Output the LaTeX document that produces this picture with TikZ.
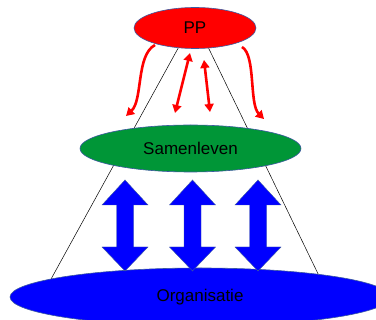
\documentclass[tikz,border=0pt]{standalone}
\usepackage{fontspec}
\setmainfont{Liberation Sans}
\usetikzlibrary{arrows.meta,shapes.geometric,backgrounds}
\definecolor{ppred}{RGB}{255,0,0}
\definecolor{samgreen}{RGB}{0,150,55}
\definecolor{orgblue}{RGB}{0,0,255}
\definecolor{rim}{RGB}{60,90,160}

\begin{document}
\begin{tikzpicture}[x=1pt,y=-1pt,
   level/.style={ellipse,draw=rim,line width=0.6pt,inner sep=0pt,font=\fontsize{17}{20}\selectfont},
   talk/.style={ppred,line width=2.6pt,-{Triangle[length=8pt,width=9pt]}},
   both/.style={talk,{Triangle[length=8pt,width=9pt]}-{Triangle[length=8pt,width=9pt]}},
   flow/.style={fill=orgblue,draw=rim,line width=0.4pt}]
   \useasboundingbox (0,0) rectangle (376,320);
   \clip (0,0) rectangle (376,320);
   \node[level,fill=orgblue,minimum width=380pt,minimum height=58pt] (org) at (200,297) {Organisatie};
   \node[level,fill=samgreen,minimum width=221pt,minimum height=47pt] (sam) at (190.5,148.5) {Samenleven};
   \node[level,fill=ppred,minimum width=122pt,minimum height=41pt] (pp) at (195,28) {PP};
   % cone behind the levels
   \begin{scope}[on background layer]
     \draw[line width=0.5pt] (pp.230) -- (org.173)
                             (pp.304) -- (org.11);
   \end{scope}
   % free ends of the red arrows
   \coordinate (a0) at (155,45);   \coordinate (a1) at (126,116);
   \coordinate (b0) at (190,53);   \coordinate (b1) at (175,113);
   \coordinate (c0) at (204,60);   \coordinate (c1) at (210,112);
   \coordinate (d0) at (242,47);   \coordinate (d1) at (264,119);
   \draw[talk] (a0) .. controls (136,55) and (143,100) .. (a1);
   \draw[talk] (d0) .. controls (256,55) and (249,104) .. (d1);
   \draw[both] (b0) -- (b1);
   \draw[both] (c0) -- (c1);
   % exchange between Samenleven and Organisatie
   \foreach \cx in {125,192.5,258}
     \filldraw[flow] (\cx,180) -- ++(23,25) -- ++(-14.5,0) -- ++(0,42) -- ++(14.5,0)
       -- (\cx,271) -- ++(-23,-24) -- ++(14.5,0) -- ++(0,-42) -- ++(-14.5,0) -- cycle;
\end{tikzpicture}
\end{document}
